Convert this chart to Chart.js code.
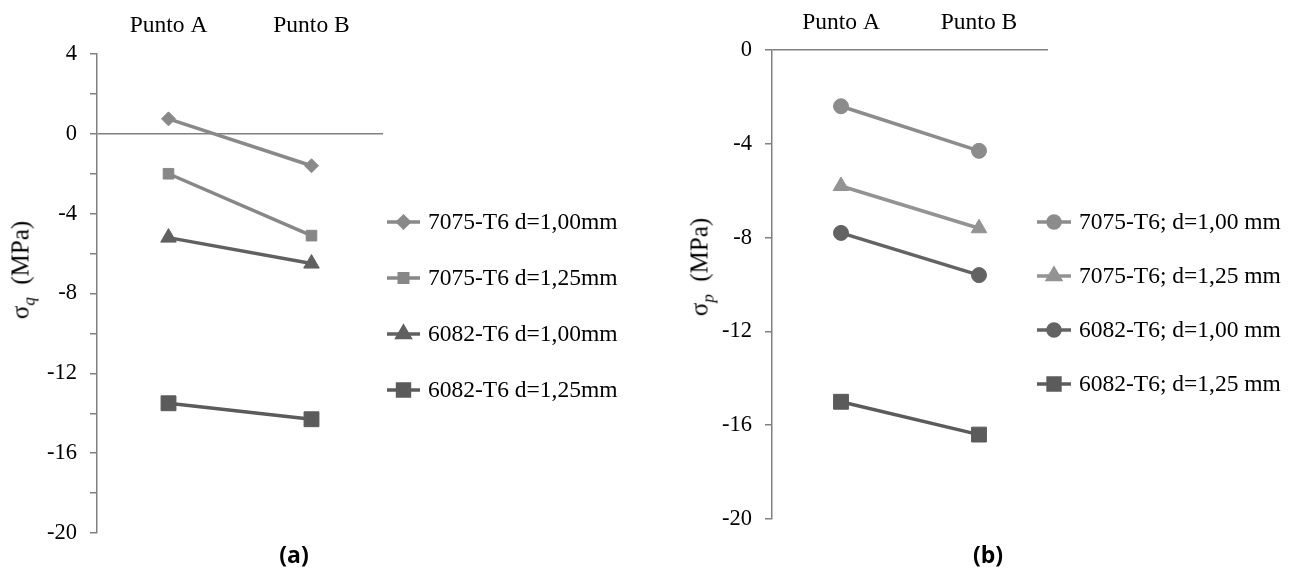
<!DOCTYPE html>
<html>
<head>
<meta charset="utf-8">
<script src="https://cdn.jsdelivr.net/npm/chart.js"></script>
<style>
  body { margin: 0; padding: 0; background: #fff; width: 1303px; height: 568px; position: relative; overflow: hidden; }
  canvas { position: absolute; top: 0; }
  #chartA { left: 0; }
  #chartB { left: 680px; }
  .ytitle {
    position: absolute; font-family: "Liberation Serif", serif; font-size: 25px; color: #000;
    white-space: nowrap; transform: translate(-50%, -50%) rotate(-90deg);
  }
  .ytitle sub { font-size: 17px; font-style: italic; }
  .panel {
    position: absolute; font-family: "Open Sans", "DejaVu Sans", sans-serif; font-weight: bold;
    font-size: 23px; color: #000; transform: translate(-50%, -50%);
  }
</style>
</head>
<body>
<canvas id="chartA" width="680" height="568"></canvas>
<canvas id="chartB" width="623" height="568"></canvas>
<div class="ytitle" style="left:23px; top:270px;">σ<sub>q</sub>&nbsp; (MPa)</div>
<div class="ytitle" style="left:702px; top:267px;">σ<sub>p</sub>&nbsp; (MPa)</div>
<div class="panel" style="left:294px; top:554px;">(a)</div>
<div class="panel" style="left:988px; top:554px;">(b)</div>

<script>
// categories
const puntos = ['Punto A', 'Punto B'];

// chart (a): sigma_q
const labelsA = ['7075-T6 d=1,00mm', '7075-T6 d=1,25mm', '6082-T6 d=1,00mm', '6082-T6 d=1,25mm'];
const q7075_100 = [0.75, -1.6];
const q7075_125 = [-2.0, -5.1];
const q6082_100 = [-5.2, -6.5];
const q6082_125 = [-13.5, -14.3];
const ticksA = { min: -20, max: 4, step: 2, labelEvery: 4 };

// chart (b): sigma_p
const labelsB = ['7075-T6; d=1,00 mm', '7075-T6; d=1,25 mm', '6082-T6; d=1,00 mm', '6082-T6; d=1,25 mm'];
const p7075_100 = [-2.4, -4.3];
const p7075_125 = [-5.8, -7.6];
const p6082_100 = [-7.8, -9.6];
const p6082_125 = [-15.0, -16.4];
const ticksB = { min: -20, max: 0, step: 4, labelEvery: 4 };

const serif = 'Liberation Serif, serif';
const axisGray = '#808080';

function ds(label, data, color, style, radius) {
  return {
    label: label, data: data,
    borderColor: color, backgroundColor: color,
    pointBackgroundColor: color, pointBorderColor: color,
    pointStyle: style, pointRadius: radius, pointBorderWidth: 1,
    borderWidth: 3.5, tension: 0
  };
}

function drawMarker(ctx, style, x, y, r) {
  if (Chart.helpers && Chart.helpers.drawPoint) {
    Chart.helpers.drawPoint(ctx, { pointStyle: style, radius: r, rotation: 0, borderWidth: 1 }, x, y);
    return;
  }
  ctx.beginPath();
  ctx.arc(x, y, r, 0, Math.PI * 2);
  ctx.fill();
}

// legend drawn as line + marker like the original spreadsheet legend
const lineLegend = {
  id: 'lineLegend',
  afterDraw(chart, args, opts) {
    const ctx = chart.ctx;
    ctx.save();
    chart.data.datasets.forEach(function (d, i) {
      const y = opts.top + i * opts.gap;
      ctx.strokeStyle = d.borderColor;
      ctx.fillStyle = d.borderColor;
      ctx.lineWidth = 3.5;
      ctx.beginPath();
      ctx.moveTo(opts.x, y);
      ctx.lineTo(opts.x + opts.len, y);
      ctx.stroke();
      drawMarker(ctx, d.pointStyle, opts.x + opts.len / 2, y, d.pointRadius * 0.8);
      ctx.fillStyle = '#000';
      ctx.font = '23.5px ' + serif;
      ctx.textBaseline = 'middle';
      ctx.textAlign = 'left';
      ctx.fillText(d.label, opts.x + opts.len + 8, y + 1);
    });
    ctx.restore();
  }
};

function makeChart(id, datasets, t, box, legend) {
  return new Chart(document.getElementById(id), {
    type: 'line',
    data: { labels: puntos, datasets: datasets },
    plugins: [lineLegend],
    options: {
      responsive: false,
      animation: false,
      layout: { padding: { left: 0, top: 0, right: box.padRight, bottom: box.padBottom } },
      plugins: {
        legend: { display: false },
        tooltip: { enabled: false },
        lineLegend: legend
      },
      scales: {
        x: {
          position: 'top',
          offset: true,
          grid: { display: false, drawTicks: false },
          border: { display: false },
          ticks: { color: '#000', font: { family: serif, size: 23.5 }, padding: box.xPad },
          afterFit: function (s) { s.height = box.top; }
        },
        y: {
          min: t.min, max: t.max,
          ticks: {
            stepSize: t.step,
            color: '#000',
            font: { family: serif, size: 22.5 },
            padding: 13,
            callback: function (v) { return v % t.labelEvery === 0 ? String(v) : ''; }
          },
          grid: {
            color: function (c) { return c.tick && c.tick.value === 0 ? axisGray : 'rgba(0,0,0,0)'; },
            lineWidth: 1.5,
            tickColor: axisGray,
            tickLength: 7
          },
          border: { display: true, color: axisGray, width: 1.5 },
          afterFit: function (s) { s.width = box.left; }
        }
      }
    }
  });
}

makeChart('chartA', [
  ds(labelsA[0], q7075_100, '#898989', 'rectRot', 7),
  ds(labelsA[1], q7075_125, '#878787', 'rect', 7.5),
  ds(labelsA[2], q6082_100, '#606060', 'triangle', 9),
  ds(labelsA[3], q6082_125, '#5b5b5b', 'rect', 10.5)
], ticksA, { left: 97, top: 54, padRight: 297, padBottom: 35, xPad: 14 },
  { x: 387, len: 33, top: 222, gap: 56 });

makeChart('chartB', [
  ds(labelsB[0], p7075_100, '#8c8c8c', 'circle', 7.5),
  ds(labelsB[1], p7075_125, '#939393', 'triangle', 9),
  ds(labelsB[2], p6082_100, '#636363', 'circle', 7.5),
  ds(labelsB[3], p6082_125, '#5b5b5b', 'rect', 10.5)
], ticksB, { left: 92, top: 50, padRight: 255, padBottom: 49, xPad: 13 },
  { x: 357, len: 34, top: 222, gap: 54 });
</script>
</body>
</html>
